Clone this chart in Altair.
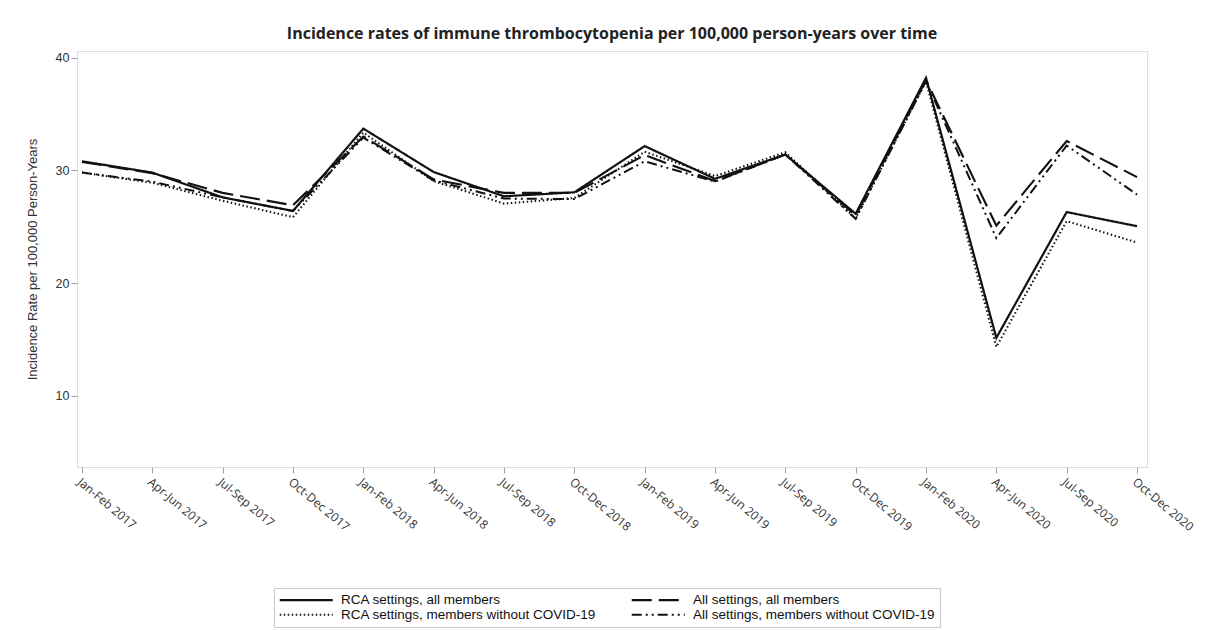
import altair as alt
import pandas as pd

# Reporting periods (x axis)
periods = [
    "Jan-Feb 2017", "Apr-Jun 2017", "Jul-Sep 2017", "Oct-Dec 2017",
    "Jan-Feb 2018", "Apr-Jun 2018", "Jul-Sep 2018", "Oct-Dec 2018",
    "Jan-Feb 2019", "Apr-Jun 2019", "Jul-Sep 2019", "Oct-Dec 2019",
    "Jan-Feb 2020", "Apr-Jun 2020", "Jul-Sep 2020", "Oct-Dec 2020",
]

# Incidence rates per 100,000 person-years, one list per series
rca_all = [30.8, 29.8, 27.6, 26.4, 33.7, 29.85, 27.7, 28.05,
           32.15, 29.25, 31.4, 26.15, 38.2, 15.15, 26.3, 25.05]
all_all = [30.75, 29.75, 28.0, 26.9, 33.0, 29.2, 28.0, 28.0,
           31.35, 29.05, 31.4, 26.0, 38.0, 25.1, 32.6, 29.4]
rca_no_covid = [29.8, 28.9, 27.3, 25.85, 33.35, 29.05, 27.05, 27.55,
                31.65, 29.5, 31.6, 25.75, 37.9, 14.35, 25.5, 23.6]
all_no_covid = [29.8, 29.0, 27.6, 26.4, 32.9, 29.1, 27.5, 27.45,
                30.8, 29.0, 31.4, 25.7, 37.9, 24.0, 32.2, 27.85]

series_names = [
    "RCA settings, all members",
    "All settings, all members",
    "RCA settings, members without COVID-19",
    "All settings, members without COVID-19",
]
series_values = [rca_all, all_all, rca_no_covid, all_no_covid]
dash_patterns = [[1, 0], [20, 7], [1.5, 2.5], [10, 4, 2, 4, 2, 4]]
line_widths = [2.2, 2, 1.8, 2]

rows = []
for name, vals in zip(series_names, series_values):
    for i, (p, v) in enumerate(zip(periods, vals)):
        rows.append({"idx": i, "period": p, "series": name, "rate": v})
df = pd.DataFrame(rows)

label_array = "[" + ",".join("'" + p + "'" for p in periods) + "]"

chart = (
    alt.Chart(df)
    .mark_line(color="#111111")
    .encode(
        x=alt.X(
            "idx:Q",
            scale=alt.Scale(domain=[-0.071, 15.142], nice=False, zero=False),
            axis=alt.Axis(
                title=None,
                values=list(range(len(periods))),
                labelExpr=label_array + "[datum.value]",
                labelAngle=40,
                labelAlign="left",
                labelBaseline="top",
                labelFont="Open Sans",
                labelFontSize=12,
                labelColor="#333333",
                labelPadding=3,
                labelOverlap=False,
                labelFlush=False,
                domain=False,
                grid=False,
                ticks=True,
                tickColor="#a0a0a0",
                tickSize=6,
            ),
        ),
        y=alt.Y(
            "rate:Q",
            scale=alt.Scale(domain=[3.7, 40.58], nice=False, zero=False),
            axis=alt.Axis(
                title="Incidence Rate per 100,000 Person-Years",
                values=[10, 20, 30, 40],
                labelFont="Liberation Sans",
                labelFontSize=12.5,
                labelColor="#333333",
                labelPadding=2,
                titleFont="Liberation Sans",
                titleFontSize=13,
                titleFontWeight="normal",
                titleColor="#333333",
                titlePadding=16,
                domain=False,
                grid=False,
                tickColor="#a0a0a0",
                tickSize=6,
            ),
        ),
        strokeDash=alt.StrokeDash(
            "series:N",
            scale=alt.Scale(domain=series_names, range=dash_patterns),
            legend=alt.Legend(
                title=None,
                orient="none",
                direction="horizontal",
                legendX=197,
                legendY=537,
                columns=2,
                columnPadding=30,
                rowPadding=0,
                symbolType="M-5.3,0H5.3",
                symbolSize=100,
                symbolOffset=20.5,
                symbolStrokeWidth=2,
                symbolStrokeColor="#111111",
                labelFont="Liberation Sans",
                labelFontSize=13.5,
                labelColor="#111111",
                labelOffset=28,
                labelLimit=400,
                strokeColor="#c8c8c8",
                padding=5,
            ),
        ),
        strokeWidth=alt.StrokeWidth(
            "series:N",
            scale=alt.Scale(domain=series_names, range=line_widths),
            legend=None,
        ),
        detail="series:N",
    )
    .properties(
        width=1070,
        height=416,
        title=alt.TitleParams(
            "Incidence rates of immune thrombocytopenia per 100,000 person-years over time",
            font="Open Sans",
            fontSize=16,
            fontWeight="bold",
            color="#222222",
            anchor="middle",
            offset=9,
        ),
        autosize=alt.AutoSizeParams(type="none"),
        padding={"left": 77, "top": 51, "right": 58, "bottom": 163},
    )
    .configure_view(stroke="#a8a8a8", strokeWidth=1)
    .configure(background="white")
)

chart.save("out.html", embed_options={"renderer": "svg", "actions": False})
